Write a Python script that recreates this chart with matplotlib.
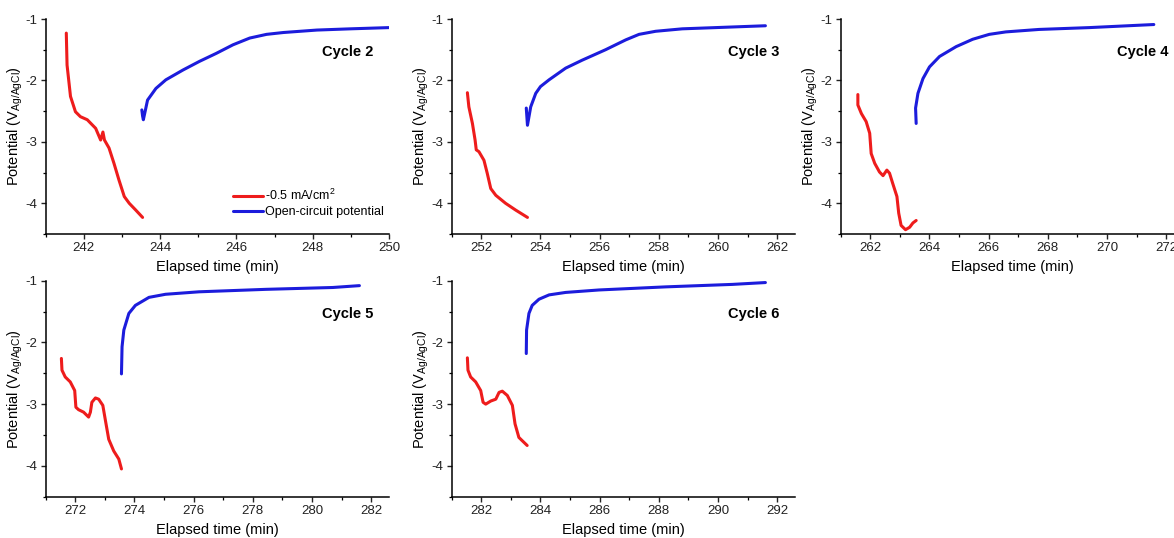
import numpy as np
import matplotlib
matplotlib.use("Agg")
from matplotlib import pyplot as plt
from matplotlib.ticker import MultipleLocator

plt.rcParams['font.family'] = ['Liberation Sans', 'DejaVu Sans']
plt.rcParams['mathtext.default'] = 'regular'
plt.rcParams['axes.unicode_minus'] = False

# Galvanostatic step (-0.5 mA/cm2) for each cycle: time (min), potential (V vs Ag/AgCl)
t_red_2 = [241.54, 241.56, 241.65, 241.78, 241.91, 242.09, 242.31, 242.44, 242.50, 242.54,
           242.66, 242.79, 242.92, 243.06, 243.19, 243.36, 243.54]
v_red_2 = [-1.23, -1.75, -2.26, -2.51, -2.59, -2.64, -2.78, -2.97, -2.84, -2.97,
           -3.10, -3.35, -3.62, -3.89, -4.00, -4.11, -4.23]

t_red_3 = [251.53, 251.58, 251.70, 251.79, 251.83, 251.92, 252.09, 252.20, 252.32, 252.49,
           252.82, 253.16, 253.56]
v_red_3 = [-2.20, -2.43, -2.70, -2.97, -3.13, -3.16, -3.30, -3.51, -3.76, -3.87,
           -4.00, -4.11, -4.23]

t_red_4 = [261.58, 261.58, 261.70, 261.86, 261.98, 262.03, 262.15, 262.31, 262.43, 262.56,
           262.65, 262.76, 262.90, 262.96, 263.04, 263.19, 263.33, 263.44, 263.55]
v_red_4 = [-2.23, -2.40, -2.54, -2.67, -2.86, -3.19, -3.35, -3.49, -3.55, -3.46,
           -3.51, -3.68, -3.89, -4.16, -4.36, -4.43, -4.39, -4.32, -4.28]

t_red_5 = [271.53, 271.55, 271.66, 271.83, 271.98, 272.02, 272.11, 272.28, 272.45, 272.51,
           272.56, 272.68, 272.79, 272.93, 273.02, 273.13, 273.30, 273.47, 273.56]
v_red_5 = [-2.26, -2.45, -2.56, -2.64, -2.78, -3.05, -3.09, -3.13, -3.21, -3.13,
           -2.97, -2.90, -2.92, -3.02, -3.27, -3.57, -3.76, -3.89, -4.05]

t_red_6 = [281.53, 281.55, 281.64, 281.81, 281.98, 282.06, 282.15, 282.32, 282.49, 282.60,
           282.71, 282.88, 283.05, 283.14, 283.27, 283.55]
v_red_6 = [-2.25, -2.45, -2.56, -2.64, -2.78, -2.97, -3.00, -2.95, -2.92, -2.81,
           -2.79, -2.86, -3.02, -3.32, -3.54, -3.67]

# Open-circuit relaxation after each step
t_ocp_2 = [243.52, 243.54, 243.56, 243.67, 243.89, 244.15, 244.60, 245.03, 245.47, 245.91,
           246.35, 246.79, 247.23, 247.67, 248.11, 248.99, 250.00]
v_ocp_2 = [-2.48, -2.58, -2.64, -2.32, -2.13, -1.99, -1.83, -1.69, -1.56, -1.42,
           -1.31, -1.25, -1.22, -1.20, -1.18, -1.16, -1.14]

t_ocp_3 = [253.52, 253.56, 253.67, 253.84, 254.00, 254.29, 254.85, 255.41, 256.20, 256.88,
           257.33, 257.89, 258.79, 259.92, 261.60]
v_ocp_3 = [-2.45, -2.73, -2.43, -2.21, -2.10, -1.99, -1.80, -1.67, -1.50, -1.34,
           -1.25, -1.20, -1.16, -1.14, -1.11]

t_ocp_4 = [263.55, 263.53, 263.61, 263.78, 264.00, 264.34, 264.90, 265.46, 266.02, 266.58,
           267.70, 269.40, 271.58]
v_ocp_4 = [-2.70, -2.45, -2.21, -1.97, -1.78, -1.61, -1.45, -1.33, -1.25, -1.21,
           -1.17, -1.14, -1.09]

t_ocp_5 = [273.56, 273.58, 273.64, 273.81, 274.03, 274.49, 275.05, 276.18, 278.44, 280.70, 281.60]
v_ocp_5 = [-2.51, -2.07, -1.80, -1.53, -1.40, -1.27, -1.22, -1.18, -1.14, -1.11, -1.08]

t_ocp_6 = [283.52, 283.53, 283.61, 283.72, 283.95, 284.29, 284.85, 285.98, 288.23, 290.48, 291.60]
v_ocp_6 = [-2.18, -1.80, -1.53, -1.40, -1.30, -1.23, -1.19, -1.15, -1.10, -1.06, -1.03]

cycles = ['Cycle 2', 'Cycle 3', 'Cycle 4', 'Cycle 5', 'Cycle 6']
t_red = [t_red_2, t_red_3, t_red_4, t_red_5, t_red_6]
v_red = [v_red_2, v_red_3, v_red_4, v_red_5, v_red_6]
t_ocp = [t_ocp_2, t_ocp_3, t_ocp_4, t_ocp_5, t_ocp_6]
v_ocp = [v_ocp_2, v_ocp_3, v_ocp_4, v_ocp_5, v_ocp_6]
x_lims = [(241, 250), (251, 262.6), (261, 272.6), (271, 282.6), (281, 292.6)]

W, H = 1174, 538
fig = plt.figure(figsize=(W / 100, H / 100), dpi=100)

# axes boxes in pixels: left, bottom-edge y (from top), width, height
boxes = [(45.7, 234, 343.3, 215), (451.7, 234, 343.3, 215), (840.7, 234, 343.3, 215),
         (45.7, 496.7, 343.3, 216), (451.7, 496.7, 343.3, 216)]

red = '#ee1c1c'
blue = '#1c1cdc'

for i in range(5):
    l, b, w, h = boxes[i]
    ax = fig.add_axes([l / W, 1 - b / H, w / W, h / H])
    ax.plot(t_red[i], v_red[i], color=red, lw=2.2, label='-0.5 mA/cm$^2$',
            solid_joinstyle='round', solid_capstyle='round')
    ax.plot(t_ocp[i], v_ocp[i], color=blue, lw=2.2, label='Open-circuit potential',
            solid_joinstyle='round', solid_capstyle='round')

    ax.set_xlim(x_lims[i])
    ax.set_ylim(-4.5, -1)
    ax.xaxis.set_major_locator(MultipleLocator(2))
    ax.xaxis.set_minor_locator(MultipleLocator(1))
    ax.yaxis.set_major_locator(MultipleLocator(1))
    ax.yaxis.set_minor_locator(MultipleLocator(0.5))

    for s in ['top', 'right']:
        ax.spines[s].set_visible(False)
    for s in ['left', 'bottom']:
        ax.spines[s].set_linewidth(1.1)
    ax.tick_params(which='major', direction='out', length=3.5, width=1.0,
                   labelsize=9.5, pad=2.5, colors='#222222')
    ax.tick_params(which='minor', direction='out', length=2, width=0.9)

    ax.set_xlabel('Elapsed time (min)', fontsize=10.5, labelpad=4)
    ax.set_ylabel(r'Potential (V$_{Ag/AgCl}$)', fontsize=10.5, labelpad=0.5)
    ax.set_facecolor('none')

    ax.text(0.955, 0.845, cycles[i], transform=ax.transAxes, ha='right', va='center',
            fontsize=10.5, fontweight='bold')

    if i == 0:
        ax.legend(loc='lower right', bbox_to_anchor=(1.0, 0.05), frameon=False,
                  fontsize=9, handlelength=2.4, handletextpad=0.15,
                  labelspacing=0.25, borderaxespad=0.0)

plt.savefig('out.png', dpi=100)
